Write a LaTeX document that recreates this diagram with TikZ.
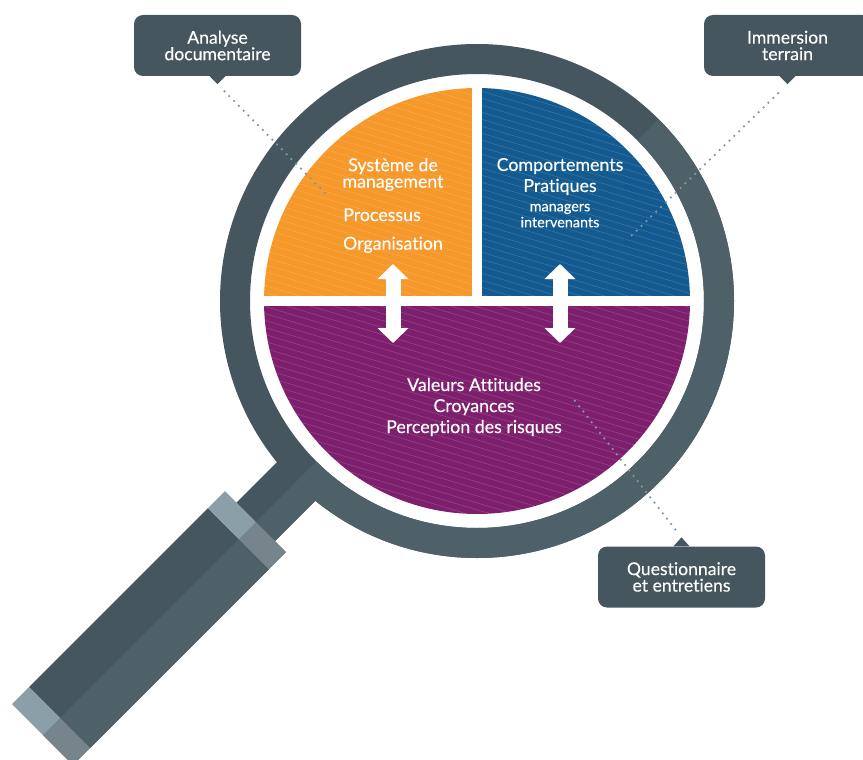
\documentclass[tikz,border=0pt]{standalone}
\usepackage{fontspec}
\setmainfont{Lato}[Ligatures=NoCommon, FakeBold=0.25]
\usetikzlibrary{arrows.meta, positioning}

\definecolor{ringdark}{HTML}{46565F}
\definecolor{ringlight}{HTML}{4F6168}
\definecolor{banddark}{HTML}{8A9FA8}
\definecolor{bandlight}{HTML}{76858C}
\definecolor{orangefill}{HTML}{F6982A}
\definecolor{bluefill}{HTML}{125A8F}
\definecolor{purplefill}{HTML}{7E1F6E}
\definecolor{dotcolor}{HTML}{7F97A3}

\newcommand{\loupebody}[2]{
  \fill[#1, even odd rule] (477,301) circle (257) (477,301) circle (227);
  \fill[#1] (236,503) -- (292,447) -- (330,486) -- (274,542) -- cycle;
  \fill[#1] (208,508) -- (269,569) -- (90,748) -- (29,687) -- cycle;
  \fill[#2] (225,491) -- (286,552) -- (269,569) -- (208,508) -- cycle;
  \fill[#2] (29,687) -- (90,748) -- (73,765) -- (12,704) -- cycle;
}

\begin{document}
\begin{tikzpicture}[
    x=1pt, y=-1pt,
    callout/.style={fill=ringdark, rounded corners=9pt, minimum width=167pt, minimum height=61pt, align=center, text=white, inner sep=0pt, font=\fontsize{17.6}{16.5}\selectfont},
    quadlabel/.style={align=center, text=white, inner sep=0pt, font=\fontsize{17.8}{16.5}\selectfont},
    smalllabel/.style={align=center, text=white, inner sep=0pt, font=\fontsize{14.4}{16}\selectfont},
    dotline/.style={dotcolor, line width=2.5pt, line cap=round, dash pattern=on 0pt off 6.8pt},
    biarrow/.style={{Triangle[length=15pt, width=30pt]}-{Triangle[length=15pt, width=30pt]}, white, line width=15pt}
  ]
    \clip (0,0) rectangle (863,760);

    \loupebody{ringdark}{banddark}
    \begin{scope}
      \clip (0,778) -- (778,0) -- (863,0) -- (863,760) -- (18,760) -- cycle;
      \loupebody{ringlight}{bandlight}
    \end{scope}

    \begin{scope}
      \clip (477,301) circle (213);
      \fill[orangefill] (260,85) rectangle (477,301);
      \fill[bluefill] (477,85) rectangle (695,301);
      \fill[purplefill] (260,301) rectangle (695,518);
      \foreach \y in {-80,-73,...,530}
        \draw[white, opacity=0.16, line width=0.6pt] (260,\y) -- (695,\y+130);
      \fill[white] (260,296) rectangle (695,306);
      \fill[white] (472,85) rectangle (482,296);
    \end{scope}

    \coordinate (orangeport) at (393,264);
    \coordinate (orangeend) at (393,343);
    \coordinate (blueport) at (560,264);
    \coordinate (blueend) at (560,343);
    \draw[biarrow] (orangeport) -- (orangeend);
    \draw[biarrow] (blueport) -- (blueend);

    \node[quadlabel] (systeme) at (393,174.5) {Système de\\management};
    \node[quadlabel, below=17pt of systeme, xshift=-11pt] (processus) {Processus};
    \node[quadlabel, below=15pt of processus, xshift=11pt] (organisation) {Organisation};

    \node[quadlabel] (comportements) at (560,176.5) {Comportements\\[4.5pt]Pratiques};
    \node[smalllabel, below=8.5pt of comportements] (managers) {managers\\intervenants};

    \node[quadlabel] (valeurs) at (474,407) {Valeurs Attitudes\\[4.5pt]Croyances\\[4.5pt]Perception des risques};

    \node[callout] (analyse) at (217.5,45.5) {\raisebox{-1pt}{Analyse}\\\raisebox{-1pt}{documentaire}};
    \node[callout] (immersion) at (787.5,45.5) {\raisebox{-1pt}{Immersion}\\\raisebox{-1pt}{terrain}};
    \node[callout] (questionnaire) at (681.5,577) {\raisebox{-2pt}{Questionnaire}\\\raisebox{-2pt}{et entretiens}};

    \fill[ringdark] ([xshift=-8pt]analyse.south) -- ([xshift=8pt]analyse.south) -- ([yshift=-8pt]analyse.south) coordinate (analysetip) -- cycle;
    \fill[ringdark] ([xshift=-8pt]immersion.south) -- ([xshift=8pt]immersion.south) -- ([yshift=-8pt]immersion.south) coordinate (immersiontip) -- cycle;
    \fill[ringdark] ([xshift=-8pt]questionnaire.north) -- ([xshift=8pt]questionnaire.north) -- ([yshift=9pt]questionnaire.north) coordinate (questionnairetip) -- cycle;

    \coordinate (analyseend) at (325,193);
    \coordinate (immersionend) at (627,240);
    \coordinate (questionnaireend) at (572,397);

    \draw[dotline, shorten <=10pt] (analysetip) -- (analyseend);
    \draw[dotline, shorten <=13pt] (immersiontip) -- (immersionend);
    \draw[dotline, shorten <=10pt] (questionnairetip) -- (questionnaireend);
  \end{tikzpicture}
\end{document}
